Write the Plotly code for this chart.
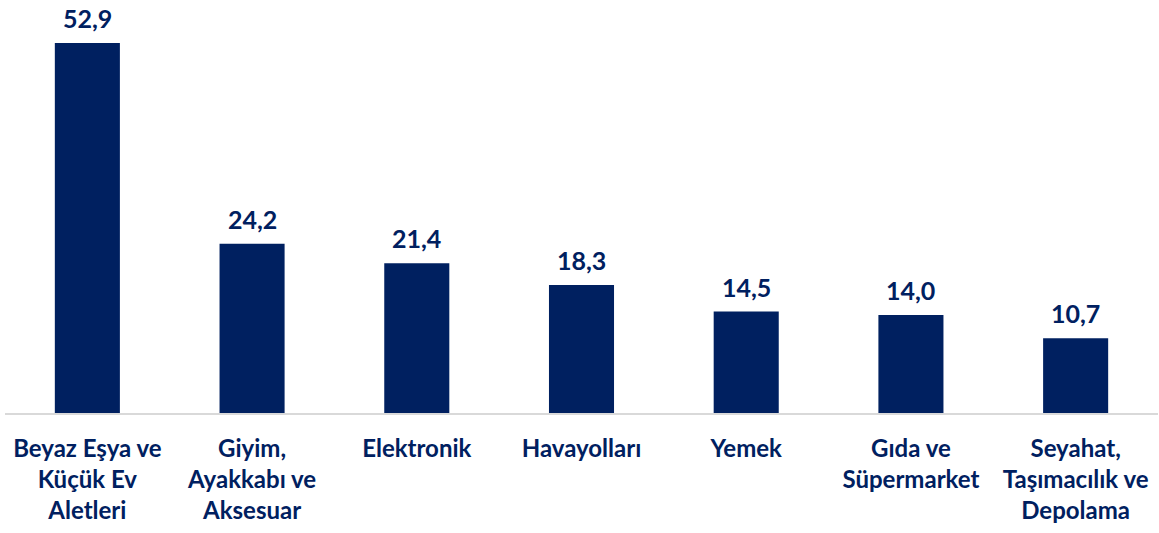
import plotly.graph_objects as go

categories = ["Beyaz Eşya ve<br>Küçük Ev<br>Aletleri", "Giyim,<br>Ayakkabı ve<br>Aksesuar", "Elektronik",
              "Havayolları", "Yemek", "Gıda ve<br>Süpermarket", "Seyahat,<br>Taşımacılık ve<br>Depolama"]
values = [52.9, 24.2, 21.4, 18.3, 14.5, 14.0, 10.7]
value_labels = ["52,9", "24,2", "21,4", "18,3", "14,5", "14,0", "10,7"]

navy = "#002060"
xs = list(range(len(categories)))
fig = go.Figure(go.Bar(
    x=xs, y=values, marker_color=navy, marker_line_width=0,
    width=0.395, hoverinfo="skip",
))
for xi, v, lab in zip(xs, values, value_labels):
    fig.add_annotation(x=xi, y=v, text=lab, showarrow=False, yanchor="bottom", yshift=8,
                       font=dict(family="Lato", size=25, color=navy, weight="bold"))
fig.update_layout(
    width=1159, height=533, margin=dict(l=5, r=1, t=0, b=120),
    plot_bgcolor="white", paper_bgcolor="white", showlegend=False,
    font=dict(family="Lato", color=navy),
    xaxis=dict(tickmode="array", tickvals=xs, ticktext=categories,
               range=[-0.5, 6.5], showgrid=False, zeroline=False,
               showline=True, linecolor="#D9D9D9", linewidth=1.5, ticks="",
               ticklabelstandoff=13,
               tickfont=dict(family="Lato", size=24, color=navy, weight="bold")),
    yaxis=dict(range=[0, 59.05], visible=False),
)
fig.write_html("out.html", config={"displayModeBar": False},
               post_script="document.body.style.margin='0px';")
